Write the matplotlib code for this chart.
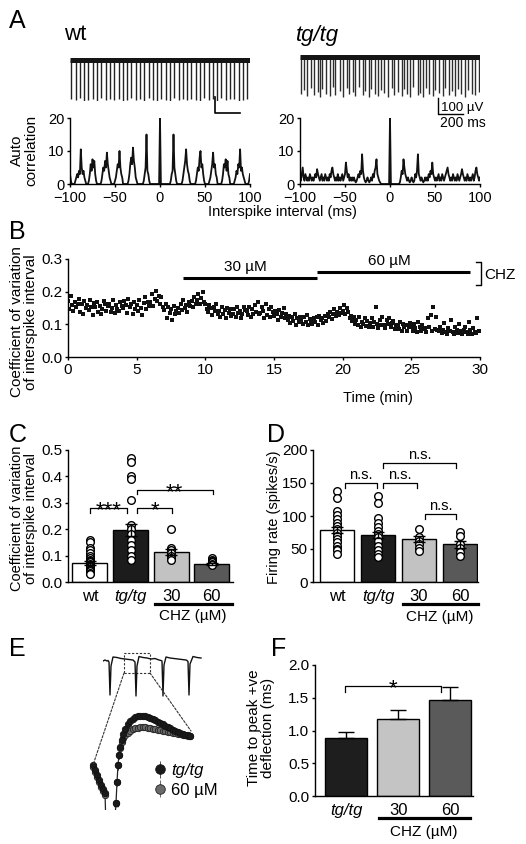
import numpy as np
import matplotlib
matplotlib.use('Agg')
import matplotlib.pyplot as plt
from matplotlib import font_manager
from matplotlib.patches import Rectangle, ConnectionPatch

# ---------------- data ----------------
# A: spike trains (ms, depth in uV below baseline)
wt_spike_t = [10, 44, 79, 113, 147, 182, 216, 250, 285, 319, 353, 388, 422, 456, 491, 525, 559, 594, 628, 662,
              697, 731, 765, 800, 834, 868, 903, 937, 971, 1006, 1040, 1074, 1109, 1143, 1177, 1212, 1246, 1280,
              1315, 1349, 1383, 1418]
wt_spike_d = [245, 250, 238, 252, 247, 241, 255, 236, 249, 244, 251, 240, 253, 246, 239, 250, 243, 256, 237, 248,
              252, 241, 246, 254, 238, 249, 243, 251, 240, 247, 255, 239, 248, 244, 252, 237, 250, 245, 241, 253,
              246, 240]
tg_spike_t = [8, 30, 52, 90, 108, 140, 158, 175, 210, 238, 262, 280, 318, 340, 372, 390, 425, 441, 470, 500,
              520, 548, 571, 600, 622, 650, 668, 700, 735, 752, 780, 812, 830, 858, 880, 905, 940, 958, 985, 1010,
              1032, 1062, 1080, 1110, 1140, 1158, 1190, 1215, 1240, 1262, 1290, 1320, 1345, 1372, 1398, 1430]
tg_spike_d = [230, 205, 245, 190, 238, 215, 250, 200, 228, 242, 185, 235, 210, 248, 195, 232, 220, 244, 188, 236,
              212, 247, 198, 230, 240, 205, 225, 250, 192, 238, 216, 243, 200, 229, 246, 185, 234, 221, 249, 196,
              231, 240, 208, 226, 245, 190, 237, 214, 242, 199, 233, 248, 206, 228, 239, 218]

# A: autocorrelation, 1 ms bins from -100 to 100 ms
acg_lags = np.arange(-100, 101)
wt_acg = [3, 1, 0, 0, 0, 0, 1, 2, 3, 2,
          4, 3, 10.5, 5, 3, 4, 2, 1, 0, 0,
          0, 1, 3, 6, 4, 7.5, 5, 7, 3, 1,
          0, 0, 0, 0, 0, 1, 3, 5, 4, 7,
          5, 9.5, 6, 4, 2, 1, 0, 0, 0, 0,
          1, 2, 4, 6, 5, 10, 5, 3, 2, 0,
          0, 0, 0, 0, 0, 1, 3, 6, 8, 6,
          11, 7, 5, 2, 1, 0, 0, 0, 0, 0,
          0, 0, 1, 3, 5, 15, 4, 3, 1, 0,
          0, 0, 0, 0, 0, 0, 0, 0, 0, 0,
          20,
          0, 0, 0, 0, 0, 0, 0, 0, 0, 0,
          0, 1, 3, 4, 15, 5, 3, 1, 0, 0,
          0, 0, 0, 0, 1, 3, 5, 7, 10.5, 6,
          4, 3, 1, 0, 0, 0, 0, 0, 0, 1,
          3, 5, 4, 8, 10, 5, 6, 3, 1, 0,
          0, 0, 0, 0, 1, 2, 4, 6, 9.5, 5,
          6, 3, 2, 0, 0, 0, 0, 0, 1, 3,
          6, 5, 7.5, 4, 7, 3, 2, 0, 0, 0,
          0, 0, 1, 2, 4, 3, 6, 5, 10.5, 4,
          5, 3, 2, 1, 0, 0, 0, 0, 1, 3]
tg_acg = [2, 1, 3, 5, 2, 1, 3, 2, 1, 2,
          1, 3, 2, 1, 2, 1, 2, 3, 2, 4.5,
          3, 2, 1, 2, 3, 1, 2, 1, 3, 2,
          1, 2, 1, 3, 2, 4, 5, 3, 2, 1,
          2, 1, 3, 1, 2, 1, 2, 3, 1, 2,
          3, 6.5, 4, 2, 3, 1, 2, 1, 2, 1,
          2, 1, 0.5, 1, 2, 3, 2, 4, 3, 9,
          4, 2, 1, 0.5, 1, 2, 1, 0.5, 1, 2,
          1, 3, 2, 4, 5, 7.5, 3, 2, 1, 0.5,
          0, 0, 0, 0, 0, 0, 0, 0, 0, 0,
          20,
          0, 0, 0, 0, 0, 0, 0, 0, 0, 0,
          0.5, 2, 4, 3, 7.5, 5, 3, 2, 1, 2,
          1, 0.5, 1, 2, 1, 0.5, 1, 3, 2, 4,
          9, 3, 2, 1, 2, 1, 0.5, 1, 2, 1,
          2, 1, 3, 2, 4, 3, 6.5, 3, 2, 1,
          2, 1, 2, 3, 1, 2, 1, 3, 2, 1,
          2, 3, 4, 5, 3, 2, 1, 2, 1, 3,
          2, 1, 2, 1, 3, 2, 1, 2, 3, 4.5,
          3, 2, 1, 2, 1, 3, 2, 1, 2, 1,
          2, 3, 1, 2, 4, 5, 3, 2, 1, 2]

# B: CV of ISI sampled every 0.1 min
cv_time = np.arange(300) * 0.1
cv_values = [
    .172, .148, .186, .158, .141, .167, .153, .162, .179, .137,
    .161, .132, .171, .149, .158, .143, .176, .152, .128, .164,
    .153, .168, .139, .157, .131, .146, .172, .161, .142, .155,
    .163, .138, .151, .174, .134, .159, .147, .141, .168, .156,
    .149, .171, .158, .136, .177, .152, .163, .133, .169, .147,
    .158, .142, .173, .151, .129, .164, .183, .148, .167, .155,
    .168, .192, .157, .179, .203, .171, .188, .162, .184, .153,
    .144, .163, .118, .152, .134, .147, .112, .156, .131, .142,
    .151, .134, .162, .143, .173, .149, .158, .139, .168, .157,
    .171, .152, .184, .163, .176, .193, .161, .182, .198, .169,
    .162, .148, .139, .158, .151, .128, .154, .141, .163, .133,
    .142, .121, .153, .131, .144, .119, .151, .134, .146, .124,
    .133, .147, .122, .152, .136, .141, .118, .131, .154, .143,
    .141, .129, .153, .122, .146, .133, .158, .139, .168, .131,
    .134, .152, .141, .119, .161, .128, .146, .123, .153, .137,
    .124, .142, .131, .113, .143, .122, .136, .151, .118, .132,
    .112, .124, .103, .121, .109, .131, .098, .118, .107, .122,
    .113, .101, .122, .108, .128, .097, .117, .109, .102, .119,
    .108, .121, .099, .127, .112, .118, .103, .124, .109, .131,
    .121, .138, .117, .132, .146, .124, .139, .128, .151, .136,
    .142, .158, .131, .149, .137, .118, .127, .109, .121, .102,
    .112, .098, .121, .091, .108, .102, .118, .096, .111, .093,
    .103, .119, .092, .108, .152, .101, .089, .113, .097, .121,
    .098, .088, .112, .101, .119, .092, .104, .109, .087, .099,
    .097, .086, .108, .081, .102, .091, .098, .079, .093, .104,
    .091, .079, .101, .088, .077, .108, .092, .081, .098, .087,
    .088, .077, .118, .091, .128, .079, .153, .086, .121, .082,
    .081, .092, .072, .084, .103, .078, .071, .089, .079, .112,
    .078, .069, .091, .082, .073, .101, .079, .071, .084, .093,
    .077, .071, .108, .082, .069, .089, .078, .073, .118, .081]
drug_start = [8.4, 18.1]
drug_end = [18.1, 29.3]
drug_level = [0.243, 0.26]
drug_names = ['30 \u00b5M', '60 \u00b5M']

# C / D: group bars and individual cells
groups = ['wt', 'tg/tg', '30', '60']
bar_colors = ['white', '#1c1c1c', '#c2c2c2', '#595959']
cv_mean = [0.072, 0.197, 0.113, 0.068]
cv_sem = [0.009, 0.022, 0.012, 0.004]
cv_cells = [
    [0.16, 0.15, 0.13, 0.12, 0.11, 0.10, 0.09, 0.085, 0.08, 0.075, 0.07, 0.065, 0.06, 0.055, 0.05, 0.045, 0.04, 0.035, 0.03],
    [0.47, 0.455, 0.40, 0.39, 0.31, 0.215, 0.20, 0.18, 0.16, 0.14, 0.12, 0.10, 0.085],
    [0.20, 0.13, 0.12, 0.11, 0.10, 0.09, 0.085],
    [0.09, 0.085, 0.08, 0.075, 0.07, 0.065],
]
rate_mean = [79, 71, 65, 57]
rate_sem = [5, 5, 4, 5]
rate_cells = [
    [138, 128, 108, 102, 96, 90, 85, 80, 75, 70, 65, 60, 55, 50, 48, 42],
    [130, 120, 97, 90, 84, 78, 73, 68, 62, 55, 48, 42, 38],
    [80, 68, 62, 57, 52, 47],
    [76, 70, 58, 52, 45, 40],
]

# E: example trace (4 spikes) and enlarged averaged waveform
e_trace_t = [0, 2, 4, 5, 6, 7, 8, 10, 14, 18, 22, 26, 30, 31, 32, 33, 34, 36, 40, 44, 48, 52, 56, 58, 59,
             60, 61, 63, 67, 71, 75, 79, 83, 84, 85, 86, 87, 90, 94, 98]
e_trace_v = [-1, 0, -1, -0.5, -2, -35, -6, 3, 2.5, 1.5, 1, 0.5, 0, -1, -2, -36, -6, 3.5, 2.5, 2, 1, 1.5, 0, -0.5, -1,
             -36, -5, 3, 2, 1.5, 1, 0.5, 0, -0.5, -1.5, -35, -4, 3.5, 2.5, 2]
frag_t = [8, 10, 12, 14, 16, 18, 20]
frag_tg = [45, 40, 35, 30, 25, 21, 17]
frag_chz = [43, 38, 33, 28, 23, 19, 15]
wave_t = [31, 32, 33, 34, 35, 36.5, 38, 40, 42.5, 45, 47.5, 50, 52.5, 55, 57.5, 60, 62.5, 65, 67.5, 70,
          72.5, 75, 77.5, 80, 82.5, 85, 87.5, 90, 92.5, 95, 97.5, 100, 102.5, 105]
wave_tg = [7, 28, 45, 55, 63, 70, 76, 81, 86, 89, 91.5, 93, 94, 94.5, 94.5, 94, 93, 92, 91, 90,
           88.5, 87, 86, 84.5, 83, 82, 80.5, 79.5, 78, 77, 76, 75.5, 75, 74]
wave_chz = [7, 28, 45, 55, 62, 68, 72, 75, 77.5, 79.5, 81, 82, 82.5, 83, 83, 83, 82.5, 82, 81.5, 81,
            80.5, 80, 79.5, 79, 78.5, 78, 77.5, 77, 76.5, 76, 75.5, 75, 74.5, 74]
wave_sem = [0, 4, 5, 4, 4, 3.5, 3.5, 3, 3, 3, 3, 3, 3, 3, 3, 3, 3, 3, 3, 3,
            3, 3, 3, 3, 3, 3, 3, 3, 3, 3, 3, 3, 3, 3]

# F: time to peak
f_groups = ['tg/tg', '30', '60']
f_colors = ['#1e1e1e', '#c4c4c4', '#5a5a5a']
f_mean = [0.89, 1.18, 1.47]
f_sem = [0.09, 0.14, 0.19]

# ---------------- style ----------------
names = {f.name for f in font_manager.fontManager.ttflist}
NARROW = 'Liberation Sans Narrow' if 'Liberation Sans Narrow' in names else 'Liberation Sans'
plt.rcParams['font.family'] = [NARROW, 'DejaVu Sans']
plt.rcParams['font.size'] = 11
plt.rcParams['axes.linewidth'] = 1.0
plt.rcParams['xtick.major.width'] = 1.0
plt.rcParams['ytick.major.width'] = 1.0
plt.rcParams['xtick.major.size'] = 2.5
plt.rcParams['ytick.major.size'] = 2.5

W, H = 526, 844
fig = plt.figure(figsize=(W / 100, H / 100), dpi=100)


def add_ax(x0, y0, x1, y1):
    return fig.add_axes([x0 / W, 1 - y1 / H, (x1 - x0) / W, (y1 - y0) / H])


def ftext(x, y, s, **kw):
    fig.text(x / W, 1 - y / H, s, **kw)


def clean(ax):
    ax.spines['top'].set_visible(False)
    ax.spines['right'].set_visible(False)


def bracket(ax, x0, x1, y, drop, label, size=10.5, off=1):
    ax.plot([x0, x0, x1, x1], [y - drop, y, y, y - drop], color='k', lw=0.9, clip_on=False)
    if label.startswith('*'):
        ax.annotate(label, xy=((x0 + x1) / 2, y), xytext=(0, -6), textcoords='offset points',
                    ha='center', va='baseline', fontsize=16, family='Liberation Sans')
    else:
        ax.annotate(label, xy=((x0 + x1) / 2, y), xytext=(0, off), textcoords='offset points',
                    ha='center', va='bottom', fontsize=size)


def group_axis(ax, xs, labels, line_x, line_y, chz_x, chz_y):
    ax.set_xticks(xs)
    ax.set_xticklabels(labels, fontsize=12)
    ax.get_xticklabels()[labels.index('tg/tg')].set_style('italic')
    ax.tick_params(axis='x', length=0, pad=5)
    tr = ax.get_xaxis_transform()
    ax.plot(line_x, [line_y, line_y], color='k', lw=2.3, transform=tr, clip_on=False)
    ax.text(chz_x, chz_y, 'CHZ (\u00b5M)', transform=tr, ha='center', va='center', fontsize=11)


# ---------------- panel labels ----------------
for lab, x, y in [('A', 9, 9), ('B', 9, 220), ('C', 9, 423), ('D', 267, 423), ('E', 9, 637), ('F', 271, 637)]:
    ftext(x, y, lab, fontsize=18, family='Liberation Sans', ha='left', va='top')

# ---------------- A ----------------
ftext(64, 35, 'wt', fontsize=16, family='Liberation Sans', va='center')
ftext(296, 35, 'tg/tg', fontsize=16, family='Liberation Sans', style='italic', va='center')

for x0, y0, times, depths, col in [(70, 55, wt_spike_t, wt_spike_d, '#222222'),
                                   (300, 52, tg_spike_t, tg_spike_d, '#2e2e2e')]:
    ax = add_ax(x0, y0, x0 + 180, y0 + 46)
    ax.set_xlim(0, 1440)
    ax.set_ylim(-255, 30)
    ax.axis('off')
    ax.vlines(times, -np.array(depths), 0, color=col, lw=1.0)
    ax.plot([0, 1440], [0, 0], color='#151515', lw=3.6, solid_capstyle='butt')
    if x0 == 70:
        ax.plot([1160, 1160, 1360], [-229, -329, -329], color='k', lw=1.2, clip_on=False)
    else:
        ax.plot([1104, 1104, 1304], [-254, -354, -354], color='k', lw=1.0, clip_on=False)

ftext(441, 108, '100 \u00b5V', fontsize=9.5, va='center', ha='left')
ftext(440, 123, '200 ms', fontsize=10, va='center', ha='left')

for x0, acg in [(70, wt_acg), (300, tg_acg)]:
    ax = add_ax(x0, 118, x0 + 180, 184)
    ax.plot(acg_lags, acg, color='#111111', lw=1.3)
    ax.set_xlim(-100, 100)
    ax.set_ylim(0, 20)
    ax.set_xticks([-100, -50, 0, 50, 100])
    ax.set_yticks([0, 10, 20])
    ax.tick_params(axis='y', labelsize=10.5, pad=1.5)
    ax.tick_params(axis='x', labelsize=10.5, pad=2.5)
    clean(ax)

ftext(24, 150, 'Auto\ncorrelation', rotation=90, ha='center', va='center', fontsize=11,
      multialignment='center', linespacing=1.0)
ftext(282, 212, 'Interspike interval (ms)', ha='center', va='center', fontsize=10.5)

# ---------------- B ----------------
axb = add_ax(68, 259, 480, 357)
axb.plot(cv_time, cv_values, 's', ms=2.4, color='#111111', mew=0)
axb.set_xlim(0, 30)
axb.set_ylim(0, 0.3)
axb.set_xticks(range(0, 31, 5))
axb.set_yticks([0, 0.1, 0.2, 0.3])
axb.set_yticklabels(['0.0', '0.1', '0.2', '0.3'])
axb.tick_params(labelsize=11, pad=1.5)
clean(axb)
for s, e, lev, name in zip(drug_start, drug_end, drug_level, drug_names):
    axb.plot([s, e], [lev, lev], color='k', lw=2.2, clip_on=False, solid_capstyle='butt')
    axb.text((s + e) / 2 - 0.3, lev + 0.012, name, ha='center', va='bottom', fontsize=11)
axb.plot([29.7, 30.05, 30.05, 29.7], [0.29, 0.29, 0.22, 0.22], color='k', lw=1.0, clip_on=False)
axb.text(30.3, 0.252, 'CHZ', ha='left', va='center', fontsize=11)
ftext(378, 398, 'Time (min)', ha='center', va='center', fontsize=10.5)
ftext(24, 322, 'Coefficient of variation\nof interspike interval', rotation=90, ha='center', va='center',
      fontsize=11, multialignment='center', linespacing=1.05)

# ---------------- C ----------------
xs = np.arange(len(groups))
axc = add_ax(68, 450, 233, 582)
axc.bar(xs, cv_mean, width=0.86, color=bar_colors, edgecolor='k', lw=1.0, zorder=1)
for i, cells in enumerate(cv_cells):
    axc.plot([xs[i]] * len(cells), cells, 'o', ms=5.5, mfc='white', mec='k', mew=1.0, zorder=2)
axc.errorbar(xs, cv_mean, yerr=cv_sem, fmt='none', ecolor='k', elinewidth=1.0, capsize=4, zorder=3)
axc.set_xlim(-0.54, 3.52)
axc.set_ylim(0, 0.5)
axc.set_yticks([0, 0.1, 0.2, 0.3, 0.4, 0.5])
axc.set_yticklabels(['0.0', '0.1', '0.2', '0.3', '0.4', '0.5'])
axc.tick_params(axis='y', labelsize=11, pad=1.5)
clean(axc)
group_axis(axc, xs, groups, [1.6, 3.49], -0.167, 2.53, -0.26)
bracket(axc, 0.0, 0.92, 0.28, 0.018, '***')
bracket(axc, 1.15, 2.03, 0.28, 0.018, '*')
bracket(axc, 1.15, 3.02, 0.35, 0.018, '**')
ftext(24, 518, 'Coefficient of variation\nof interspike interval', rotation=90, ha='center', va='center',
      fontsize=10.5, multialignment='center', linespacing=1.05)

# ---------------- D ----------------
axd = add_ax(313, 450, 478, 582)
axd.bar(xs, rate_mean, width=0.84, color=bar_colors, edgecolor='k', lw=1.0, zorder=1)
for i, cells in enumerate(rate_cells):
    axd.plot([xs[i]] * len(cells), cells, 'o', ms=5.5, mfc='white', mec='k', mew=1.0, zorder=2)
axd.errorbar(xs, rate_mean, yerr=rate_sem, fmt='none', ecolor='k', elinewidth=1.0, capsize=4, zorder=3)
axd.set_xlim(-0.585, 3.44)
axd.set_ylim(0, 200)
axd.set_yticks([0, 50, 100, 150, 200])
axd.tick_params(axis='y', labelsize=11, pad=1.5)
clean(axd)
group_axis(axd, xs, groups, [1.61, 3.44], -0.167, 2.51, -0.265)
bracket(axd, 0.2, 0.98, 150, 7, 'n.s.')
bracket(axd, 1.12, 1.95, 150, 7, 'n.s.')
bracket(axd, 1.12, 2.9, 180, 7, 'n.s.')
bracket(axd, 2.15, 2.9, 103, 7, 'n.s.')
ftext(274, 517, 'Firing rate (spikes/s)', rotation=90, ha='center', va='center', fontsize=10.5)

# ---------------- E ----------------
axe_top = add_ax(103, 650, 202, 700)
axe_top.plot(e_trace_t, e_trace_v, color='#111111', lw=1.0)
axe_top.set_xlim(0, 99)
axe_top.set_ylim(-40, 10)
axe_top.axis('off')
axe_top.add_patch(Rectangle((21, -13), 26, 20, fill=False, ls=(0, (2, 1.5)), lw=0.8, ec='#333333'))

axe = add_ax(85, 700, 200, 810)
axe.set_xlim(0, 115)
axe.set_ylim(0, 110)
axe.axis('off')
axe.plot(frag_t + [20.5], frag_tg + [0], color='#222222', lw=0.9)
axe.plot(frag_t, frag_chz, 'o', ms=4.6, mfc='#6a6a6a', mec='#222222', mew=0.6)
axe.plot(frag_t, frag_tg, 'o', ms=4.6, mfc='#1a1a1a', mec='#111111', mew=0.6)
axe.plot([30.5] + wave_t, [0] + wave_tg, color='#222222', lw=0.9)
axe.errorbar(wave_t, wave_chz, yerr=wave_sem, fmt='o', ms=4.6, mfc='#6a6a6a', mec='#222222', mew=0.6,
             ecolor='#555555', elinewidth=0.6, label='60 \u00b5M')
axe.errorbar(wave_t, wave_tg, yerr=wave_sem, fmt='o', ms=4.6, mfc='#1a1a1a', mec='#111111', mew=0.6,
             ecolor='#333333', elinewidth=0.6, label='tg/tg')
axe.plot([30.5], [6], '^', ms=3, color='#333333')
h, l = axe.get_legend_handles_labels()
leg = axe.legend(h[::-1], l[::-1], loc='upper left', bbox_to_anchor=(0.49, 0.50), frameon=False,
                 fontsize=12, handletextpad=0.1, handlelength=1.2, labelspacing=0.25, markerscale=1.5,
                 borderpad=0)
leg.get_texts()[0].set_style('italic')
for xa, ya, xb, yb in [(21, -13, 8, 45), (47, -13, 106, 79)]:
    con = ConnectionPatch(xyA=(xa, ya), coordsA=axe_top.transData, xyB=(xb, yb), coordsB=axe.transData,
                          ls=(0, (2, 1.5)), lw=0.8, color='#333333')
    fig.add_artist(con)

# ---------------- F ----------------
fx = np.arange(len(f_groups))
axf = add_ax(315, 665, 473, 796)
axf.bar(fx, f_mean, width=0.8, color=f_colors, edgecolor='k', lw=1.0, zorder=1)
axf.errorbar(fx, f_mean, yerr=[np.zeros(3), f_sem], fmt='none', ecolor='k', elinewidth=1.0, capsize=6, zorder=2)
axf.set_xlim(-0.6, 2.44)
axf.set_ylim(0, 2.0)
axf.set_yticks([0, 0.5, 1.0, 1.5, 2.0])
axf.set_yticklabels(['0.0', '0.5', '1.0', '1.5', '2.0'])
axf.tick_params(axis='y', labelsize=11, pad=1.5)
clean(axf)
group_axis(axf, fx, f_groups, [0.63, 2.38], -0.168, 1.5, -0.275)
bracket(axf, -0.02, 1.83, 1.68, 0.09, '*')
ftext(261, 728, 'Time to peak +ve\ndeflection (ms)', rotation=90, ha='center', va='center', fontsize=11,
      multialignment='center', linespacing=1.05)

fig.savefig('out.png', dpi=100)
